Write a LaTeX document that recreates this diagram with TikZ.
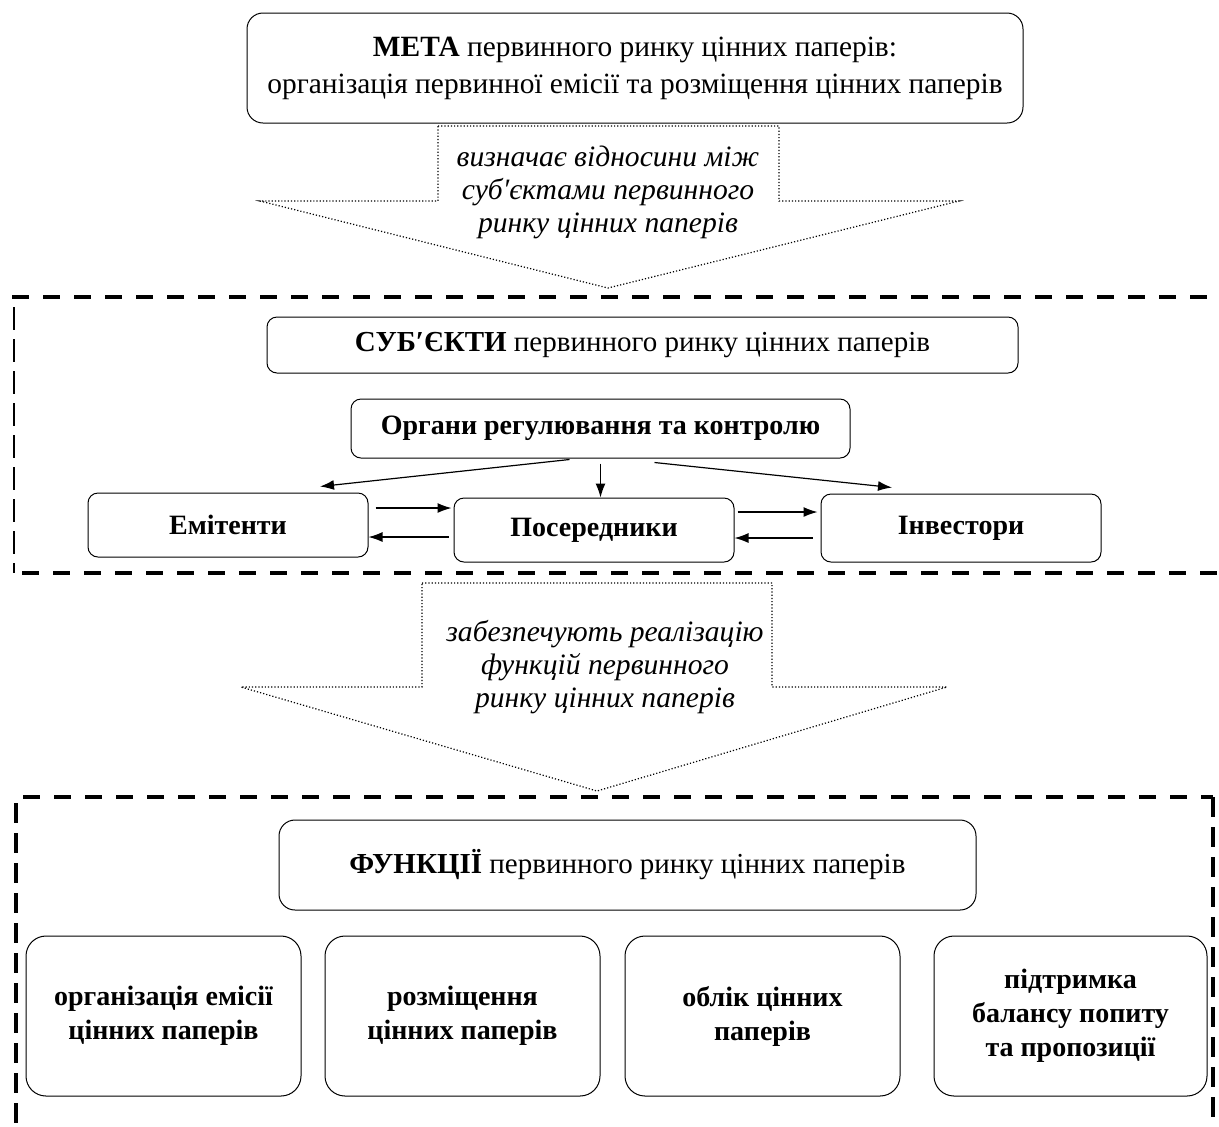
\documentclass[tikz,border=0pt]{standalone}
\usepackage{fontspec}
\setmainfont{Liberation Serif}
\usetikzlibrary{arrows.meta,calc}
\tikzset{
    box/.style={draw, rounded corners=5pt, line width=0.5pt, align=center, inner sep=0pt,
        font=\fontsize{14.5}{17}\selectfont},
    bbox/.style={box, font=\fontsize{14}{17}\selectfont\bfseries},
    fbox/.style={box, rounded corners=10pt, minimum width=137.5pt, minimum height=80pt,
        font=\fontsize{14}{17}\selectfont\bfseries},
    arr/.style={-{Latex[length=7pt,width=5pt]}, line width=0.6pt},
    hframe/.style={dash pattern=on 8.5pt off 7pt, line width=1.7pt},
    vthin/.style={dash pattern=on 11.5pt off 4.5pt, line width=1pt},
    vthick/.style={dash pattern=on 10pt off 5pt, line width=2.4pt},
    blockarrow/.style={densely dotted, line width=0.6pt},
    note/.style={align=center, inner sep=0pt, font=\fontsize{14.8}{16.5}\selectfont\itshape}
}

\begin{document}
\begin{tikzpicture}[x=0.5pt, y=-0.5pt]
    \useasboundingbox (0,0) rectangle (1219,1126);

    \node[box, rounded corners=8pt, minimum width=388pt, minimum height=55pt,
        font=\fontsize{14.7}{18.5}\selectfont] (meta) at (635,68)
        {\textbf{МЕТА} первинного ринку цінних паперів:\\організація первинної емісії та розміщення цінних паперів};

    \draw[blockarrow] (438,126) -- (779,126) -- (779,201) -- (959,201) -- (608,288)
        -- (260,201) -- (438,201) -- cycle;
    \node[note] (defines) at (608,192) {визначає відносини між\\суб′єктами первинного\\ринку цінних паперів};

    \draw[hframe] (12,297) -- (1219,297);
    \draw[hframe] (22,573) -- (1219,573);
    \draw[vthin] (14,307) -- (14,573);

    \node[box, minimum width=375.5pt, minimum height=28pt] (subj) at (642.5,345)
        {\textbf{СУБ′ЄКТИ} первинного ринку цінних паперів};
    \node[bbox, minimum width=249.5pt, minimum height=29.5pt] (organ) at (600.5,428.5)
        {Органи регулювання та контролю};
    \node[bbox, minimum width=140pt, minimum height=32pt] (emit) at (228,525) {Емітенти};
    \node[bbox, minimum width=140pt, minimum height=32pt] (posr) at (594,530) {Посередники};
    \node[bbox, minimum width=140pt, minimum height=34pt] (inv) at (961,528) {Інвестори};

    \draw[arr] ([xshift=-15.5pt,yshift=-0.5pt]organ.south) -- ([xshift=46pt,yshift=3pt]emit.north);
    \draw[arr] ([yshift=-2.5pt]organ.south) -- (organ.south |- posr.north);
    \draw[arr] ([xshift=27pt,yshift=-2pt]organ.south) -- ([xshift=-34.5pt,yshift=3pt]inv.north);

    \draw[arr] ([xshift=3.5pt,yshift=8.5pt]emit.east) -- ([xshift=-1pt,yshift=11pt]posr.west);
    \draw[arr] ([xshift=-2.5pt,yshift=-3.5pt]posr.west) -- ([yshift=-6pt]emit.east);
    \draw[arr] ([xshift=1.5pt,yshift=9pt]posr.east) -- ([xshift=-1.5pt,yshift=8pt]inv.west);
    \draw[arr] ([xshift=-4pt,yshift=-5pt]inv.west) -- ([yshift=-4pt]posr.east);

    \draw[blockarrow] (422,583) -- (772,583) -- (772,687) -- (947,687) -- (597,791)
        -- (241,687) -- (422,687) -- cycle;
    \node[note] (provide) at (605,667) {забезпечують реалізацію\\функцій первинного\\ринку цінних паперів};

    \draw[hframe] (23,797) -- (1213,797);
    \draw[vthick] (16,803) -- (16,1126);
    \draw[vthick] (1213,797) -- (1213,1126);

    \node[box, rounded corners=8pt, minimum width=348.5pt, minimum height=45pt] (func) at (627.5,865)
        {\textbf{ФУНКЦІЇ} первинного ринку цінних паперів};
    \node[fbox] (f1) at (163.5,1016) {організація емісії\\цінних паперів};
    \node[fbox] (f2) at (462.5,1016) {розміщення\\цінних паперів};
    \node[fbox] (f3) at (762.5,1016) {облік цінних\\паперів};
    \node[fbox, minimum width=136.5pt] (f4) at (1070.5,1016) {підтримка\\балансу попиту\\та пропозиції};
\end{tikzpicture}
\end{document}
